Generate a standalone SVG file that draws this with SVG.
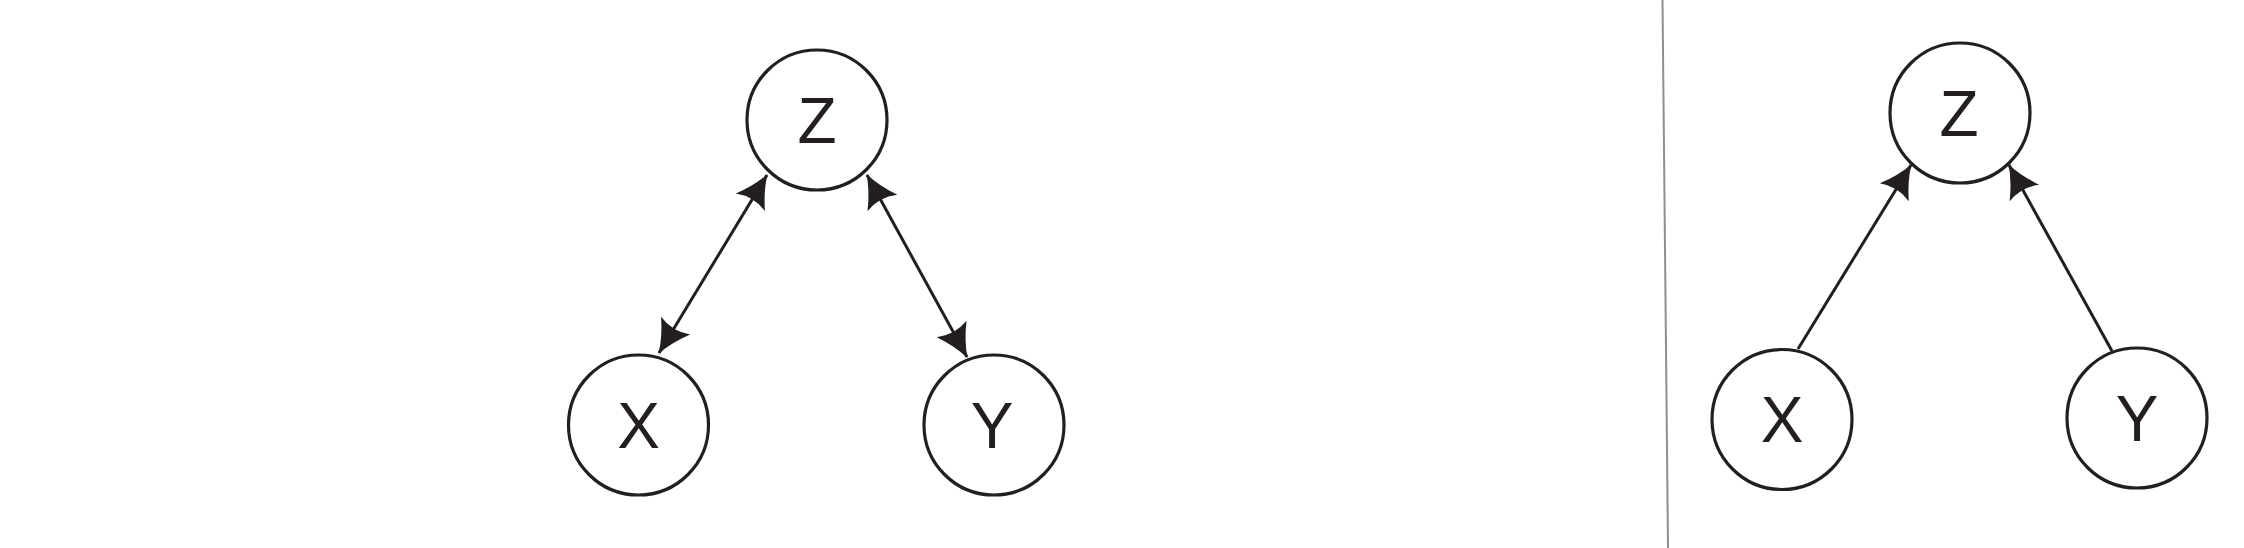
<svg xmlns="http://www.w3.org/2000/svg" width="2244" height="548" viewBox="0 0 2244 548">
<style>
.node circle{fill:#fff;stroke:#231f20;stroke-width:3.2}
.node text{font-family:"Liberation Sans",Arial,sans-serif;font-size:64px;fill:#231f20;text-anchor:middle}
.edge{stroke:#231f20;stroke-width:3;fill:none}
</style>
<defs>
<marker id="ah" viewBox="-40 -20 44 40" refX="0" refY="0" markerWidth="44" markerHeight="40" markerUnits="userSpaceOnUse" orient="auto-start-reverse">
<path d="M1,0 Q-15,-5 -32,-17 Q-25,0 -32,17 Q-15,5 1,0 Z" fill="#231f20"/>
</marker>
</defs>
<rect width="2244" height="548" fill="#fff"/>
<line id="divider" x1="1662.5" y1="0" x2="1668" y2="548" stroke="#8f8f8f" stroke-width="2"/>
<g id="connectors">
<path class="edge" d="M659,353 L767,175" marker-start="url(#ah)" marker-end="url(#ah)"/>
<path class="edge" d="M867,175 L967,357" marker-start="url(#ah)" marker-end="url(#ah)"/>
<path class="edge" d="M1798,349 L1911,165" marker-end="url(#ah)"/>
<path class="edge" d="M2112,351 L2009,165" marker-end="url(#ah)"/>
</g>
<g id="left-Z" class="node"><circle cx="817" cy="120" r="70"/><text x="817" y="143">Z</text></g>
<g id="left-X" class="node"><circle cx="638.5" cy="425" r="70"/><text x="638.5" y="448">X</text></g>
<g id="left-Y" class="node"><circle cx="994" cy="425" r="70"/><text x="992" y="448">Y</text></g>
<g id="right-Z" class="node"><circle cx="1960" cy="113" r="70"/><text x="1959" y="136">Z</text></g>
<g id="right-X" class="node"><circle cx="1782" cy="419.5" r="70"/><text x="1782" y="442">X</text></g>
<g id="right-Y" class="node"><circle cx="2137" cy="418" r="70"/><text x="2137" y="441">Y</text></g>
</svg>
